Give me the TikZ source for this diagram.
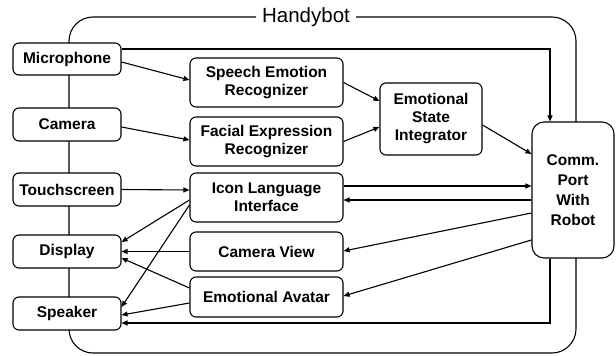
\documentclass[tikz,border=0pt]{standalone}
\usepackage{fontspec}
\setmainfont{Liberation Sans}
\usetikzlibrary{arrows.meta}
\begin{document}
\begin{tikzpicture}[x=1pt,y=-1pt,
  box/.style={draw,line width=1.1pt,rounded corners=6pt,fill=white,align=center,
    font=\fontsize{15.5}{18}\selectfont\bfseries,inner sep=0pt},
  lbox/.style={box,minimum width=108pt,minimum height=32pt},
  mbox/.style={box,minimum width=153pt},
  conn/.style={line width=1.1pt,-{Triangle[length=6pt,width=5pt]}}]
\useasboundingbox (0,0) rectangle (616,356);
% outer frame
\draw[line width=1.1pt,rounded corners=24pt] (69,17) rectangle (576,353);
\node[fill=white,inner xsep=6pt,inner ysep=2pt,font=\fontsize{20.5}{22}\selectfont] (title) at (306,17) {Handybot};
% left column
\node[lbox] (mic) at (67,59) {Microphone};
\node[lbox,minimum height=33pt] (cam) at (67,124.5) {Camera};
\node[lbox,minimum height=33pt] (touch) at (67,189.5) {Touchscreen};
\node[lbox,minimum height=33pt] (disp) at (67,251.5) {Display};
\node[lbox,minimum height=33pt] (spk) at (67,313.5) {Speaker};
% middle column
\node[mbox,minimum height=49pt] (ser) at (266.5,82.5) {Speech Emotion\\Recognizer};
\node[mbox,minimum height=49pt] (fer) at (266.5,141.5) {Facial Expression\\Recognizer};
\node[mbox,minimum height=49pt] (icon) at (266.5,197.5) {Icon Language\\Interface};
\node[mbox,minimum height=39pt] (cview) at (266.5,251.5) {Camera View};
\node[mbox,minimum height=40pt] (avat) at (266.5,297) {Emotional Avatar};
% integrator and comm port
\node[box,minimum width=102pt,minimum height=72pt] (integ) at (431,119) {Emotional\\State\\Integrator};
\node[box,rounded corners=12pt,minimum width=82pt,minimum height=136pt,
  font=\fontsize{15.5}{20}\selectfont\bfseries] (comm) at (573,190) {Comm.\\Port\\With\\Robot};
% connectors
\draw[conn] ([yshift=10pt]mic.east) -| ([xshift=-23pt]comm.north);
\draw[conn] ([yshift=-3pt]mic.east) -- ([yshift=2.5pt]ser.west);
\draw[conn] ([yshift=-2.5pt]cam.east) -- ([yshift=1.5pt]fer.west);
\draw[conn] (ser.east) -- ([yshift=18pt]integ.west);
\draw[conn] (fer.east) -- ([yshift=-8pt]integ.west);
\draw[conn] ([yshift=-6pt]integ.east) -- ([yshift=36pt]comm.west);
\draw[conn] (touch.east) -- ([yshift=7.5pt]icon.west);
\draw[conn] ([yshift=11.5pt]icon.east) -- ([yshift=4pt]comm.west);
\draw[conn] ([yshift=-10pt]comm.west) -- ([yshift=-2.5pt]icon.east);
\draw[conn] ([yshift=-23pt]comm.west) -- ([yshift=0.5pt]cview.east);
\draw[conn] ([yshift=-50pt]comm.west) -- ([yshift=1pt]avat.east);
\draw[conn] ([yshift=-2.5pt]icon.west) -- ([yshift=9.5pt]disp.east);
\draw[conn] ([yshift=-7.5pt]icon.west) -- ([yshift=6.5pt]spk.east);
\draw[conn] (cview.west) -- (disp.east);
\draw[conn] ([yshift=9pt]avat.west) -- ([yshift=-6.5pt]disp.east);
\draw[conn] ([yshift=-6pt]avat.west) -- ([yshift=-1.5pt]spk.east);
\draw[conn] ([xshift=-23pt]comm.south) |- ([yshift=-9.5pt]spk.east);
\end{tikzpicture}
\end{document}
